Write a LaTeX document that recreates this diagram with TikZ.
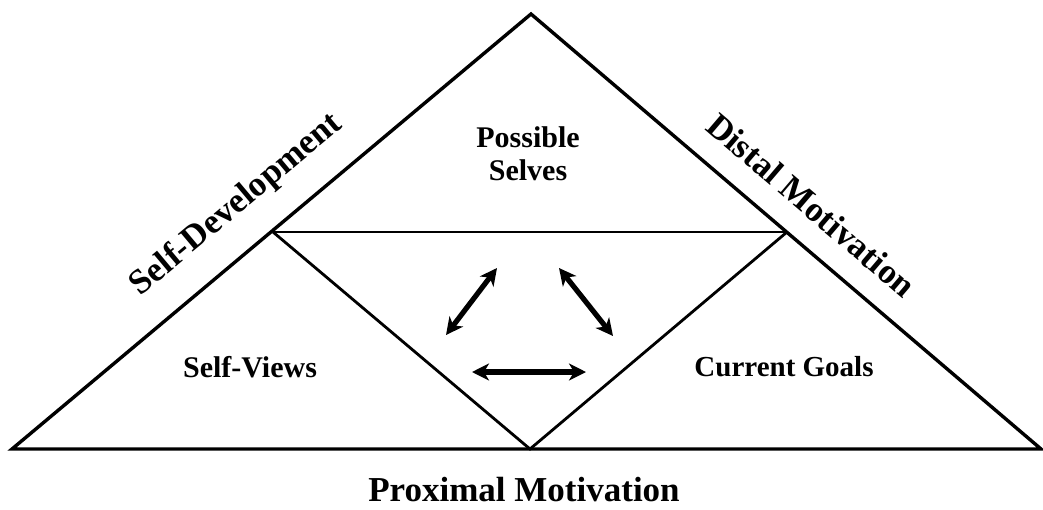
\documentclass[tikz,border=0pt]{standalone}
\usepackage{fontspec}
\setmainfont{Liberation Serif}
\usetikzlibrary{arrows.meta}
\begin{document}
\begin{tikzpicture}[x=1pt,y=-1pt,
  edge/.style={line width=3.4pt, line join=miter},
  inner/.style={line width=2.8pt},
  dbl/.style={line width=5.2pt, {Stealth[length=17pt,width=17pt,inset=5pt]}-{Stealth[length=17pt,width=17pt,inset=5pt]}},
  lbl/.style={font=\fontsize{30}{33}\selectfont\bfseries, inner sep=0pt, anchor=base},
  big/.style={font=\fontsize{35}{38}\selectfont\bfseries, inner sep=0pt}]
\useasboundingbox (0,0) rectangle (1043,509);
\coordinate (A) at (531,14);
\coordinate (L) at (12,449);
\coordinate (R) at (1041,449);
\coordinate (M) at (530,449);
\coordinate (IL) at (273,232);
\coordinate (IR) at (787,232);
\draw[edge] (L) -- (A) -- (R) -- cycle;
\draw[inner] (IL) -- (IR);
\draw[inner] (IL) -- (M) -- (IR);
\coordinate (a1s) at (446,335);
\coordinate (a1e) at (497,268);
\coordinate (a2s) at (559,268);
\coordinate (a2e) at (613,336);
\coordinate (a3s) at (472,372);
\coordinate (a3e) at (586,372);
\draw[dbl] (a1s) -- (a1e);
\draw[dbl] (a2s) -- (a2e);
\draw[dbl] (a3s) -- (a3e);
\node[lbl] (ps1) at (528,147) {Possible};
\node[lbl] (ps2) at (528,180) {Selves};
\node[lbl] (sv) at (250,377) {Self-Views};
\node[lbl, font=\fontsize{29}{33}\selectfont\bfseries] (cg) at (784,376) {Current Goals};
\node[big, anchor=base] (pm) at (524,501) {Proximal Motivation};
\node[big, rotate=40] (sd) at (236.5,205) {Self-Development};
\node[big, rotate=-40.5] (dm) at (811.5,205) {Distal Motivation};
\end{tikzpicture}
\end{document}
